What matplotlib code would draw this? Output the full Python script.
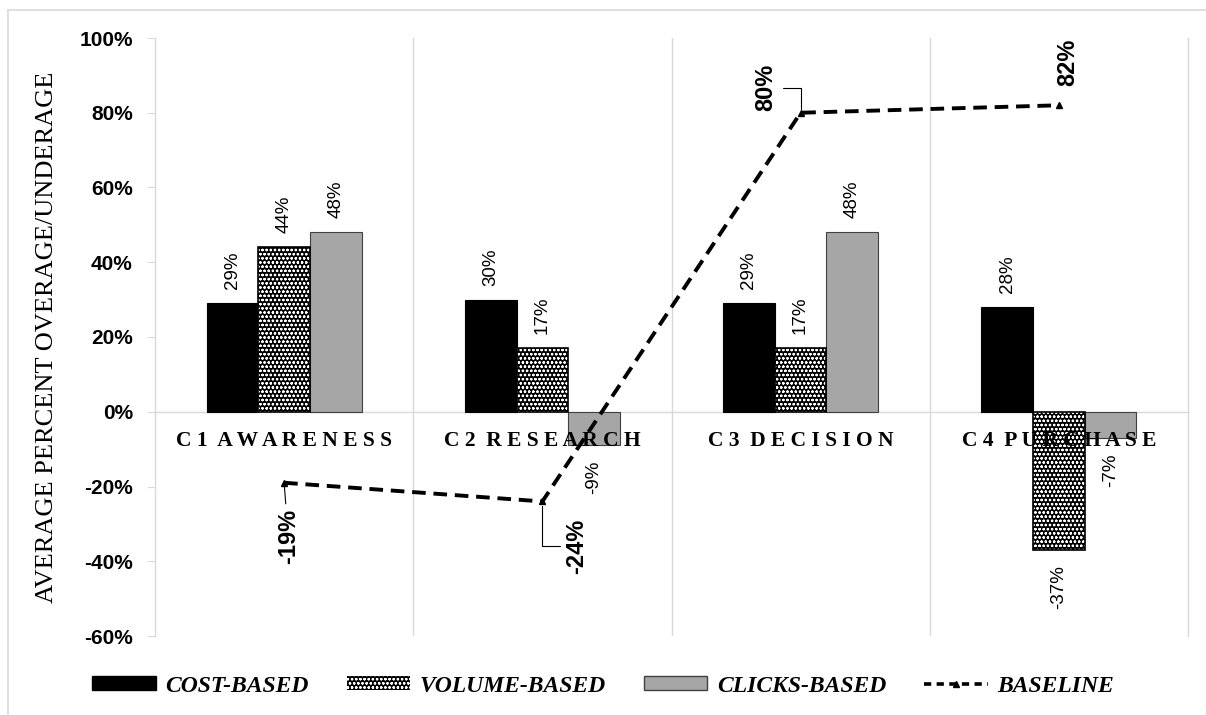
import numpy as np
import matplotlib
matplotlib.use('Agg')
import matplotlib.pyplot as plt
from matplotlib.lines import Line2D
from matplotlib.patches import Patch

# Data
categories = ['C1 AWARENESS', 'C2 RESEARCH', 'C3 DECISION', 'C4 PURCHASE']
cost_based = [29, 30, 29, 28]
volume_based = [44, 17, 17, -37]
clicks_based = [48, -9, 48, -7]
baseline = [-19, -24, 80, 82]
yticks = [-60, -40, -20, 0, 20, 40, 60, 80, 100]

SANS = 'Liberation Sans'
SERIF = 'Liberation Serif'
GRID = '#D9D9D9'

plt.rcParams['hatch.linewidth'] = 0.6

fig = plt.figure(figsize=(12.06, 7.15), dpi=100)
ax = fig.add_axes([155 / 1206, 1 - 636 / 715, (1188 - 155) / 1206, (636 - 38) / 715])

# spine position first (it resets the ticks)
ax.spines['bottom'].set_position(('data', 0))
for s in ['bottom', 'left', 'right']:
    ax.spines[s].set_color(GRID)
    ax.spines[s].set_linewidth(1.0)
ax.spines['top'].set_visible(False)

x = np.arange(len(categories))
w = 0.2

# Bars
ax.bar(x - w, cost_based, w, color='black', edgecolor='black', linewidth=0.8, zorder=3)
ax.bar(x, volume_based, w, color='black', edgecolor='white', hatch='oooo', linewidth=0, zorder=3)
ax.bar(x, volume_based, w, fill=False, edgecolor='black', linewidth=1.2, zorder=4)
ax.bar(x + w, clicks_based, w, color='#A6A6A6', edgecolor='#404040', linewidth=0.8, zorder=3)

# Bar labels
for offs, vals in [(-w, cost_based), (0, volume_based), (w, clicks_based)]:
    for i, v in enumerate(vals):
        if v >= 0:
            ax.annotate(f'{v}%', (i + offs, v), xytext=(0, 10), textcoords='offset points',
                        rotation=90, ha='center', va='bottom', fontsize=13.5, family=SANS)
        else:
            ax.annotate(f'{v}%', (i + offs, v), xytext=(0, -11), textcoords='offset points',
                        rotation=90, ha='center', va='top', fontsize=13.5, family=SANS)

# Category labels (drawn over the bars)
for i, c in enumerate(categories):
    spaced = ' '.join(c).replace('   ', '  ')
    ax.annotate(spaced, (i, 0), xytext=(0, -21), textcoords='offset points',
                ha='center', va='center', fontsize=15.5, fontweight='bold', family=SERIF,
                zorder=6)

# Baseline line
ax.plot(x, baseline, color='black', linewidth=2.8, dashes=(3.5, 2), marker='^',
        markersize=5, zorder=5)

base_offsets = [(3, -39), (25, -32), (-25, 18), (6.5, 31)]
for i, (v, off) in enumerate(zip(baseline, base_offsets)):
    if i == 0:
        arrow = dict(arrowstyle='-', color='black', lw=0.8, shrinkA=2, shrinkB=3)
    elif i in (1, 2):
        arrow = dict(arrowstyle='-', color='black', lw=0.8, shrinkA=2, shrinkB=3,
                     connectionstyle='angle,angleA=0,angleB=90,rad=0')
    else:
        arrow = None
    ax.annotate(f'{v}%', (i, v), xytext=off, textcoords='offset points', rotation=90,
                ha='center', va='center', fontsize=17, fontweight='bold', family=SANS,
                arrowprops=arrow, zorder=6)

# Axes styling
ax.set_xlim(-0.5, 3.5)
ax.set_ylim(-60, 100)
ax.set_yticks(yticks)
ax.set_yticklabels([f'{t}%' for t in yticks], fontsize=15, fontweight='bold', family=SANS)
ax.tick_params(axis='y', length=6, color=GRID, pad=10)

ax.set_xticks(x)
ax.set_xticklabels([])
ax.tick_params(axis='x', which='major', length=0)
ax.set_xticks([0.5, 1.5, 2.5], minor=True)
ax.tick_params(axis='x', which='minor', length=0)
ax.grid(True, axis='x', which='minor', color=GRID, linewidth=1.0, zorder=0)

ax.set_ylabel('AVERAGE PERCENT OVERAGE/UNDERAGE', fontsize=19, family=SERIF)
ax.yaxis.set_label_coords(-0.094, 0.5)

# Legend
handles = [
    Patch(facecolor='black', edgecolor='black'),
    Patch(facecolor='black', edgecolor='white', hatch='oooo', linewidth=0),
    Patch(facecolor='#A6A6A6', edgecolor='#404040'),
    Line2D([0], [0], color='black', linewidth=2.6, dashes=(2, 1.5), marker='^', markersize=4),
]
labels = ['COST-BASED', 'VOLUME-BASED', 'CLICKS-BASED', 'BASELINE']
fig.legend(handles, labels, loc='center', bbox_to_anchor=(0.5, 1 - 686 / 715), ncol=4,
           frameon=False, handlelength=2.7, handleheight=0.5, handletextpad=0.4,
           columnspacing=1.6, prop=dict(family=SERIF, style='italic', weight='bold', size=17))

# Chart border (left/top)
fig.add_artist(Line2D([8 / 1206, 8 / 1206], [0, 1 - 10 / 715], color=GRID, lw=1.2))
fig.add_artist(Line2D([8 / 1206, 1], [1 - 10 / 715, 1 - 10 / 715], color=GRID, lw=1.2))

fig.savefig('out.png', dpi=100)
